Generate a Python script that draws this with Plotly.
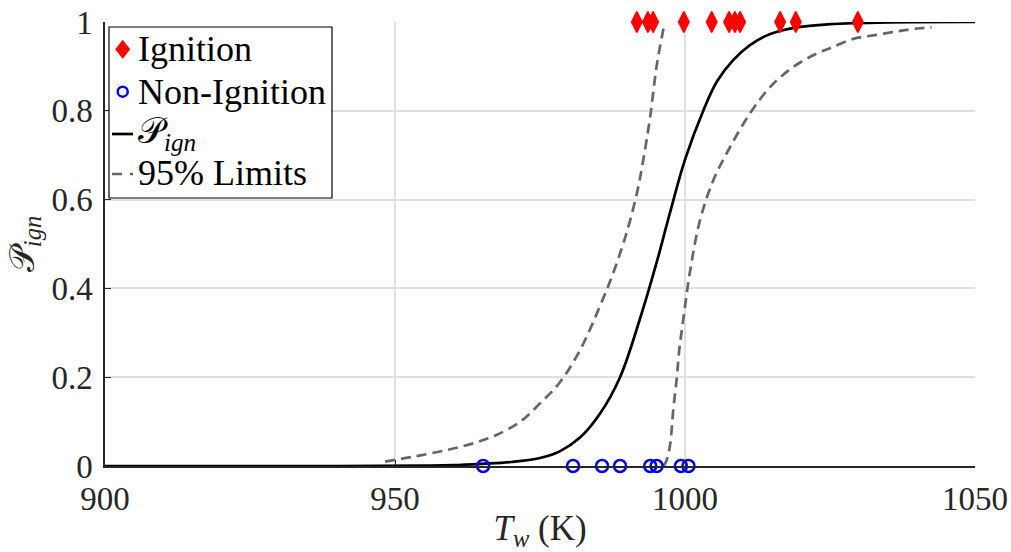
import plotly.graph_objects as go

# Observed points
ign_T = [991.7, 993.6, 994.5, 999.8, 1004.6, 1007.6, 1008.6, 1009.5, 1016.4, 1019.1, 1029.8]
ign_P = [1, 1, 1, 1, 1, 1, 1, 1, 1, 1, 1]
non_T = [965.2, 980.7, 985.7, 988.8, 994.0, 995.1, 999.3, 1000.6]
non_P = [0, 0, 0, 0, 0, 0, 0, 0]

# Fitted ignition probability curve
fit_T = [900, 940, 955, 960, 965, 970, 975, 978.4, 981.9, 985.3, 988.8, 992.2, 995.1,
         997.4, 1000.0, 1003.2, 1005.5, 1008.3, 1011.2, 1014.7, 1019.3, 1025, 1035, 1050]
fit_P = [0, 0, 0.001, 0.002, 0.005, 0.009, 0.018, 0.033, 0.064, 0.117, 0.200, 0.330, 0.458,
         0.570, 0.690, 0.802, 0.866, 0.914, 0.948, 0.973, 0.988, 0.995, 0.999, 1.0]

# 95% limits
up_T = [948.3, 953.2, 958.9, 963.5, 967.5, 971.6, 975.0, 978.4, 981.9, 985.3, 987.6,
        989.9, 991.7, 992.8, 994.0, 995.1, 996.3]
up_P = [0.010, 0.021, 0.036, 0.051, 0.070, 0.100, 0.141, 0.188, 0.261, 0.359, 0.434,
        0.524, 0.614, 0.689, 0.787, 0.900, 0.986]
lo_T = [996.3, 996.8, 997.4, 998.0, 998.6, 999.0, 999.7, 1000.9, 1002.6, 1004.9, 1007.8,
        1011.2, 1014.7, 1018.7, 1022.7, 1025.0, 1029.0, 1033.0, 1037.1, 1040.5, 1042.5]
lo_P = [0.0, 0.012, 0.045, 0.13, 0.20, 0.26, 0.33, 0.441, 0.554, 0.644, 0.719,
        0.794, 0.854, 0.899, 0.929, 0.941, 0.962, 0.971, 0.980, 0.986, 0.988]

x_ticks = [900, 950, 1000, 1050]
y_ticks = [0, 0.2, 0.4, 0.6, 0.8, 1]
y_tick_text = ["0", "0.2", "0.4", "0.6", "0.8", "1"]

legend_labels = ["Ignition", "Non-Ignition", "𝒫<sub><i>ign</i></sub>", "95% Limits"]

SERIF = "Liberation Serif"
AX = "#262626"
FS = 33
GRAY = "#666666"

# plot-area geometry in pixels (used to place the hand-drawn legend)
W, H = 1011, 552
L, R, T, B = 105, 36, 22, 86
PW, PH = W - L - R, H - T - B


def px(x):
    return (x - L) / PW


def py(y):
    return (H - B - y) / PH


fig = go.Figure()
fig.add_trace(go.Scatter(x=fit_T, y=fit_P, mode="lines", line=dict(color="black", width=2.7, shape="spline"),
                         showlegend=False))
fig.add_trace(go.Scatter(x=up_T, y=up_P, mode="lines",
                         line=dict(color=GRAY, width=2.7, dash="10px,6px", shape="spline"),
                         showlegend=False))
fig.add_trace(go.Scatter(x=lo_T, y=lo_P, mode="lines",
                         line=dict(color=GRAY, width=2.7, dash="10px,6px", shape="spline"),
                         showlegend=False))
fig.add_trace(go.Scatter(x=ign_T, y=ign_P, mode="markers", cliponaxis=False, showlegend=False,
                         marker=dict(symbol="diamond-tall", size=15, color="#FF0000",
                                     line=dict(width=1.5, color="#FF0000"))))
fig.add_trace(go.Scatter(x=non_T, y=non_P, mode="markers", cliponaxis=False, showlegend=False,
                         marker=dict(symbol="circle-open", size=12, color="#0000FF", line=dict(width=2.5))))

# hand-drawn legend (MATLAB style box)
shapes = [
    dict(type="rect", xref="paper", yref="paper", x0=px(109), x1=px(332), y0=py(198), y1=py(27),
         line=dict(color="black", width=1.2), fillcolor="white", layer="above"),
]
cx, cy = 122.7, 49.3
shapes.append(dict(type="path", xref="paper", yref="paper", layer="above",
                   path=f"M {px(cx)},{py(cy-9.5)} L {px(cx+7.5)},{py(cy)} L {px(cx)},{py(cy+9.5)} "
                        f"L {px(cx-7.5)},{py(cy)} Z",
                   fillcolor="#FF0000", line=dict(width=0)))
shapes.append(dict(type="circle", xref="paper", yref="paper", layer="above",
                   x0=px(122.7 - 5), x1=px(122.7 + 5), y0=py(91.7 + 5), y1=py(91.7 - 5),
                   line=dict(color="#0000FF", width=2.5)))
shapes.append(dict(type="line", xref="paper", yref="paper", layer="above",
                   x0=px(112), x1=px(133), y0=py(134), y1=py(134),
                   line=dict(color="black", width=2.7)))
shapes.append(dict(type="line", xref="paper", yref="paper", layer="above",
                   x0=px(112), x1=px(133), y0=py(174), y1=py(174),
                   line=dict(color=GRAY, width=2.7, dash="10px,8px")))

row_y = [49, 92, 133, 173]
annotations = []
for lab, ry in zip(legend_labels, row_y):
    annotations.append(dict(text=lab, xref="paper", yref="paper", x=px(136), y=py(ry),
                            xanchor="left", yanchor="middle", showarrow=False,
                            font=dict(family=SERIF, size=36, color="black")))

fig.update_layout(
    width=W, height=H,
    margin=dict(l=L, r=R, t=T, b=B, autoexpand=False),
    paper_bgcolor="white", plot_bgcolor="white",
    showlegend=False,
    font=dict(family=SERIF, size=FS, color=AX),
    shapes=shapes, annotations=annotations,
    xaxis=dict(range=[900, 1050], tickvals=x_ticks, ticks="inside", ticklen=6, tickcolor=AX,
               showline=True, linecolor=AX, linewidth=1.5, showgrid=True, gridcolor="#E0E0E0",
               gridwidth=1.5, zeroline=False, automargin=False, ticklabelstandoff=3,
               tickfont=dict(size=FS, family=SERIF, color=AX),
               title=dict(text="<i>T</i><sub><i>w</i></sub> (K)", standoff=2,
                          font=dict(size=35, family=SERIF, color=AX))),
    yaxis=dict(range=[0, 1], tickvals=y_ticks, ticktext=y_tick_text, ticks="inside", ticklen=6,
               tickcolor=AX, showline=True, linecolor=AX, linewidth=1.5, showgrid=True,
               gridcolor="#E0E0E0", gridwidth=1.5, zeroline=False, automargin=False,
               ticklabelstandoff=4,
               tickfont=dict(size=FS, family=SERIF, color=AX),
               title=dict(text="𝒫<sub><i>ign</i></sub>", standoff=6,
                          font=dict(size=35, family=SERIF, color=AX))),
)

fig.write_html("out.html")
